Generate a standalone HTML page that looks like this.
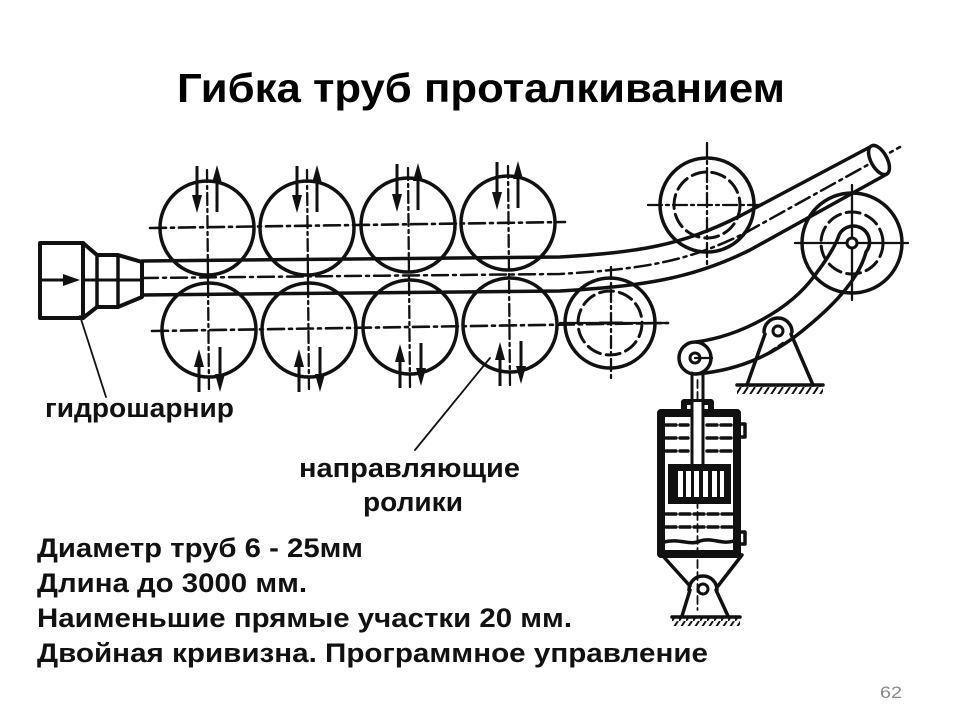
<!DOCTYPE html>
<html><head><meta charset="utf-8"><style>
html,body{margin:0;padding:0;background:#fff;}
svg{display:block;}
</style></head><body>
<svg width="960" height="720" viewBox="0 0 960 720" xmlns="http://www.w3.org/2000/svg">
<defs>
<pattern id="hatch" width="7" height="9" patternUnits="userSpaceOnUse">
<line x1="0" y1="9" x2="6" y2="0" stroke="#111" stroke-width="2"/>
</pattern>
</defs>
<rect width="960" height="720" fill="#fff"/>

<text x="177" y="102" font-family="Liberation Sans, sans-serif" font-weight="bold" font-size="41" textLength="608" lengthAdjust="spacingAndGlyphs" fill="#000">Гибка труб проталкиванием</text>

<g fill="none" stroke="#111" stroke-linecap="round" stroke-linejoin="round">
<!-- hydraulic head -->
<path d="M83,243 L40,243 L40,318 L83,318 Z" stroke-width="4"/>
<path d="M83,243 L97,255 L118,255 L142,262 L142,297 L118,307 L97,307 L83,318" stroke-width="4"/>
<line x1="97" y1="255" x2="97" y2="307" stroke-width="3.5"/>
<line x1="118" y1="255" x2="118" y2="307" stroke-width="3.5"/>
<line x1="83" y1="243" x2="83" y2="318" stroke-width="4"/>
<line x1="83" y1="280" x2="142" y2="280" stroke-width="3"/>

<!-- tube -->
<path d="M142,261 L560,257 C640,252 680,246 740,216 L870,147" stroke-width="3.5"/>
<path d="M142,295 L560,291 C640,286 690,280 750,250 L887,174" stroke-width="3.5"/>
<path d="M142,278 L560,274 C640,269 685,263 745,233 L900,147" stroke-width="2.5" stroke-dasharray="16 5 3 5"/>
<ellipse cx="879" cy="160" rx="16" ry="8" transform="rotate(61 879 160)" stroke-width="3.5" fill="#fff"/>

<!-- rollers top -->
<circle cx="207" cy="228" r="47" stroke-width="3.5"/>
<circle cx="307" cy="228" r="47" stroke-width="3.5"/>
<circle cx="408" cy="225" r="47" stroke-width="3.5"/>
<circle cx="508" cy="223" r="47" stroke-width="3.5"/>
<!-- rollers bottom -->
<circle cx="209" cy="330" r="47" stroke-width="3.5"/>
<circle cx="309" cy="330" r="47" stroke-width="3.5"/>
<circle cx="410" cy="327" r="47" stroke-width="3.5"/>
<circle cx="510" cy="325" r="47" stroke-width="3.5"/>
<circle cx="610" cy="323" r="45" stroke-width="3.5"/>
<circle cx="610" cy="323" r="32" stroke-width="3" stroke-dasharray="14 6"/>

<!-- center lines rows -->
<path d="M150,228 L565,222" stroke-width="2.6" stroke-dasharray="16 5 3 5"/>
<path d="M152,331 L668,323" stroke-width="2.6" stroke-dasharray="16 5 3 5"/>
<g stroke-width="2.3" stroke-dasharray="12 4 3 4">
<line x1="207" y1="170" x2="209" y2="392"/>
<line x1="307" y1="170" x2="309" y2="392"/>
<line x1="408" y1="168" x2="410" y2="388"/>
<line x1="508" y1="166" x2="510" y2="386"/>
<line x1="611" y1="267" x2="611" y2="382"/>
</g>
<line x1="560" y1="323" x2="668" y2="323" stroke-width="2.3"/>
<line x1="600" y1="323" x2="622" y2="323" stroke-width="3"/>

<!-- roller 6 (top right) -->
<circle cx="707" cy="205" r="47" stroke-width="3.5"/>
<circle cx="707" cy="205" r="33" stroke-width="3" stroke-dasharray="14 6"/>
<line x1="648" y1="205" x2="762" y2="205" stroke-width="2.3" stroke-dasharray="14 4 3 4"/>
<line x1="707" y1="143" x2="707" y2="265" stroke-width="2.3" stroke-dasharray="14 4 3 4"/>

<!-- bending roller -->
<circle cx="852" cy="243" r="50" stroke-width="3.5"/>
<circle cx="852" cy="243" r="31" stroke-width="3" stroke-dasharray="14 6"/>
<line x1="795" y1="243" x2="908" y2="243" stroke-width="2.3"/>
<line x1="852" y1="185" x2="852" y2="300" stroke-width="2.3"/>
<circle cx="852" cy="243" r="5" stroke-width="3" fill="#fff"/>

<!-- lever -->
<path d="M696,342 C740,336 790,310 815,275 C828,258 834,248 838,238 A16 16 0 1 1 866,252 C860,275 840,300 807,327 C780,350 745,370 696,374" stroke-width="3.5"/>
<circle cx="695" cy="358" r="16" stroke-width="3.5" fill="#fff"/>
<circle cx="695" cy="358" r="5" stroke-width="3"/>
<line x1="695" y1="358" x2="712" y2="358" stroke-width="2.3"/>
<path d="M762,357 L783,343" stroke-width="2.3" stroke-dasharray="6 4"/>

<!-- support -->
<path d="M764,332 A14 14 0 0 1 792,332" stroke-width="3.5"/>
<circle cx="778" cy="331" r="5" stroke-width="3"/>
<line x1="765" y1="334" x2="747" y2="385" stroke-width="3.5"/>
<line x1="791" y1="334" x2="813" y2="385" stroke-width="3.5"/>
<line x1="737" y1="385" x2="823" y2="385" stroke-width="3.5"/>

<!-- rod -->
<line x1="692" y1="373" x2="692" y2="465" stroke-width="3"/>
<line x1="703" y1="373" x2="703" y2="465" stroke-width="3"/>
<line x1="697.5" y1="380" x2="697.5" y2="610" stroke-width="1.8" stroke-dasharray="8 4"/>

<!-- cylinder -->
<rect x="684" y="402" width="27" height="11" stroke-width="6"/>
<rect x="661" y="413" width="76" height="141" stroke-width="8"/>
<rect x="739" y="424" width="6" height="13" stroke-width="3.5"/>
<rect x="739" y="532" width="6" height="12" stroke-width="3.5"/>
<g stroke-width="3.5" stroke-dasharray="10 4">
<line x1="666" y1="425" x2="688" y2="425"/><line x1="707" y1="425" x2="733" y2="425"/>
<line x1="666" y1="438" x2="688" y2="438"/><line x1="707" y1="438" x2="733" y2="438"/>
<line x1="666" y1="451" x2="688" y2="451"/><line x1="707" y1="451" x2="733" y2="451"/>
<line x1="666" y1="514" x2="733" y2="514"/>
<line x1="666" y1="527" x2="733" y2="527"/>
</g>
<path d="M664,542 C680,538 690,546 700,541 C712,537 722,545 734,541" stroke-width="3.5"/>

<!-- cylinder bottom pivot -->
<line x1="662" y1="555" x2="690" y2="586" stroke-width="3.5"/>
<line x1="742" y1="555" x2="718" y2="586" stroke-width="3.5"/>
<path d="M689,590 A14 14 0 0 1 717,590" stroke-width="3.5"/>
<circle cx="703" cy="589" r="5" stroke-width="3"/>
<line x1="690" y1="590" x2="682" y2="616" stroke-width="3.5"/>
<line x1="716" y1="590" x2="728" y2="616" stroke-width="3.5"/>
<line x1="672" y1="617" x2="740" y2="617" stroke-width="3.5"/>

<!-- leaders -->
<line x1="80" y1="316" x2="106" y2="397" stroke-width="1.8"/>
<line x1="490" y1="358" x2="415" y2="450" stroke-width="1.8"/>
</g>

<!-- piston -->
<rect x="668" y="464" width="63" height="40" fill="#111"/>
<g fill="#fff">
<rect x="678" y="471" width="5" height="26"/>
<rect x="686" y="471" width="5" height="26"/>
<rect x="694" y="471" width="5" height="26"/>
<rect x="703" y="471" width="5" height="26"/>
<rect x="712" y="471" width="5" height="26"/>
<rect x="720" y="471" width="4" height="26"/>
</g>
<rect x="693" y="402" width="9" height="62" fill="#fff"/>
<line x1="692" y1="402" x2="692" y2="464" stroke="#111" stroke-width="3"/>
<line x1="703" y1="402" x2="703" y2="464" stroke="#111" stroke-width="3"/>

<!-- hatching -->
<rect x="737" y="386" width="86" height="8" fill="url(#hatch)"/>
<rect x="672" y="618" width="68" height="8" fill="url(#hatch)"/>

<!-- arrows -->
<g stroke="#111" stroke-width="3" fill="#111">
<line x1="42" y1="280" x2="70" y2="280"/><polygon points="80,280 63,274 63,286" stroke="none"/>
<!-- top rollers: down left, up right -->
<line x1="197" y1="166" x2="197" y2="200"/><polygon points="197,213 192,195 202,195" stroke="none"/>
<line x1="217" y1="212" x2="217" y2="178"/><polygon points="217,165 212,183 222,183" stroke="none"/>
<line x1="297" y1="166" x2="297" y2="200"/><polygon points="297,213 292,195 302,195" stroke="none"/>
<line x1="317" y1="212" x2="317" y2="178"/><polygon points="317,165 312,183 322,183" stroke="none"/>
<line x1="397" y1="164" x2="397" y2="198"/><polygon points="397,212 392,194 402,194" stroke="none"/>
<line x1="418" y1="210" x2="418" y2="176"/><polygon points="418,163 413,181 423,181" stroke="none"/>
<line x1="497" y1="162" x2="497" y2="196"/><polygon points="497,210 492,192 502,192" stroke="none"/>
<line x1="518" y1="208" x2="518" y2="174"/><polygon points="518,161 513,179 523,179" stroke="none"/>
<!-- bottom rollers: up left, down right -->
<line x1="199" y1="392" x2="199" y2="362"/><polygon points="199,349 194,367 204,367" stroke="none"/>
<line x1="220" y1="347" x2="220" y2="378"/><polygon points="220,392 215,374 225,374" stroke="none"/>
<line x1="299" y1="392" x2="299" y2="362"/><polygon points="299,349 294,367 304,367" stroke="none"/>
<line x1="320" y1="347" x2="320" y2="378"/><polygon points="320,392 315,374 325,374" stroke="none"/>
<line x1="400" y1="388" x2="400" y2="358"/><polygon points="400,344 395,362 405,362" stroke="none"/>
<line x1="421" y1="343" x2="421" y2="372"/><polygon points="421,386 416,368 426,368" stroke="none"/>
<line x1="500" y1="386" x2="500" y2="356"/><polygon points="500,342 495,360 505,360" stroke="none"/>
<line x1="521" y1="341" x2="521" y2="370"/><polygon points="521,384 516,366 526,366" stroke="none"/>
</g>

<g font-family="Liberation Sans, sans-serif" font-weight="bold" fill="#111">
<text x="45" y="417" font-size="27" textLength="189" lengthAdjust="spacingAndGlyphs">гидрошарнир</text>
<text x="299" y="477" font-size="27" textLength="221" lengthAdjust="spacingAndGlyphs">направляющие</text>
<text x="363" y="511" font-size="27" textLength="100" lengthAdjust="spacingAndGlyphs">ролики</text>
<text x="37" y="557" font-size="26.5" textLength="326" lengthAdjust="spacingAndGlyphs">Диаметр труб 6 - 25мм</text>
<text x="37" y="592" font-size="26.5" textLength="270" lengthAdjust="spacingAndGlyphs">Длина до 3000 мм.</text>
<text x="37" y="627" font-size="26.5" textLength="535" lengthAdjust="spacingAndGlyphs">Наименьшие прямые участки 20 мм.</text>
<text x="37" y="662" font-size="26.5" textLength="671" lengthAdjust="spacingAndGlyphs">Двойная кривизна. Программное управление</text>
</g>
<text x="880" y="698" font-family="Liberation Sans, sans-serif" font-size="17" fill="#8a8a8a" textLength="22" lengthAdjust="spacingAndGlyphs">62</text>
</svg>
</body></html>
